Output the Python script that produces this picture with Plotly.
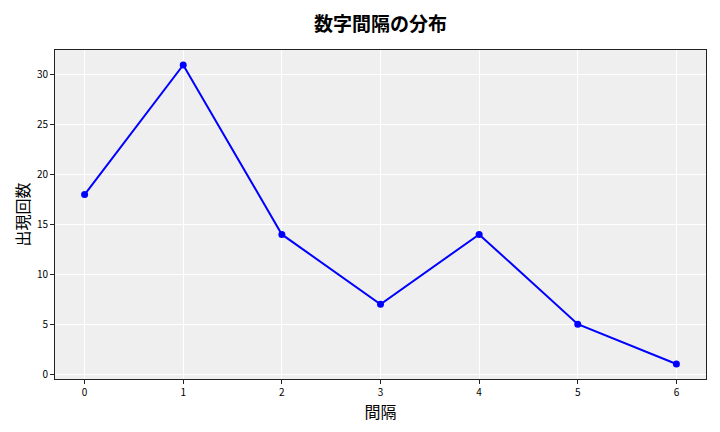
import plotly.graph_objects as go

intervals = [0, 1, 2, 3, 4, 5, 6]
counts = [18, 31, 14, 7, 14, 5, 1]

title_text = "数字間隔の分布"
x_label = "間隔"
y_label = "出現回数"

font = "Noto Sans CJK JP"

fig = go.Figure()
fig.add_trace(go.Scatter(
    x=intervals, y=counts, mode="lines+markers",
    line=dict(color="#0000ff", width=2),
    marker=dict(color="#0000ff", size=7),
    showlegend=False,
))

axis_common = dict(
    showline=True, linecolor="#222222", linewidth=1, mirror=True,
    ticks="outside", ticklen=4, tickcolor="#222222",
    showgrid=True, gridcolor="#ffffff", gridwidth=1,
    zeroline=False, automargin=False,
    tickfont=dict(family=font, size=10, color="#000000"),
)

fig.update_layout(
    width=720, height=432,
    margin=dict(l=55, r=14, t=50, b=53),
    paper_bgcolor="#ffffff", plot_bgcolor="#efefef",
    title=dict(text="<b>" + title_text + "</b>", xref="paper", x=0.5, xanchor="center",
               y=1 - 24 / 432, yanchor="middle",
               font=dict(family=font, size=19, color="#000000")),
    xaxis=dict(range=[-0.3, 6.3], tickmode="array", tickvals=intervals,
               title=dict(text=x_label, font=dict(family=font, size=16, color="#000000"), standoff=6),
               **axis_common),
    yaxis=dict(range=[-0.5, 32.5], tickmode="array", tickvals=[0, 5, 10, 15, 20, 25, 30],
               title=dict(text=y_label, font=dict(family=font, size=16, color="#000000"), standoff=3),
               **axis_common),
)

fig.write_html("out.html", config={"displayModeBar": False},
               post_script="document.body.style.margin='0';")
